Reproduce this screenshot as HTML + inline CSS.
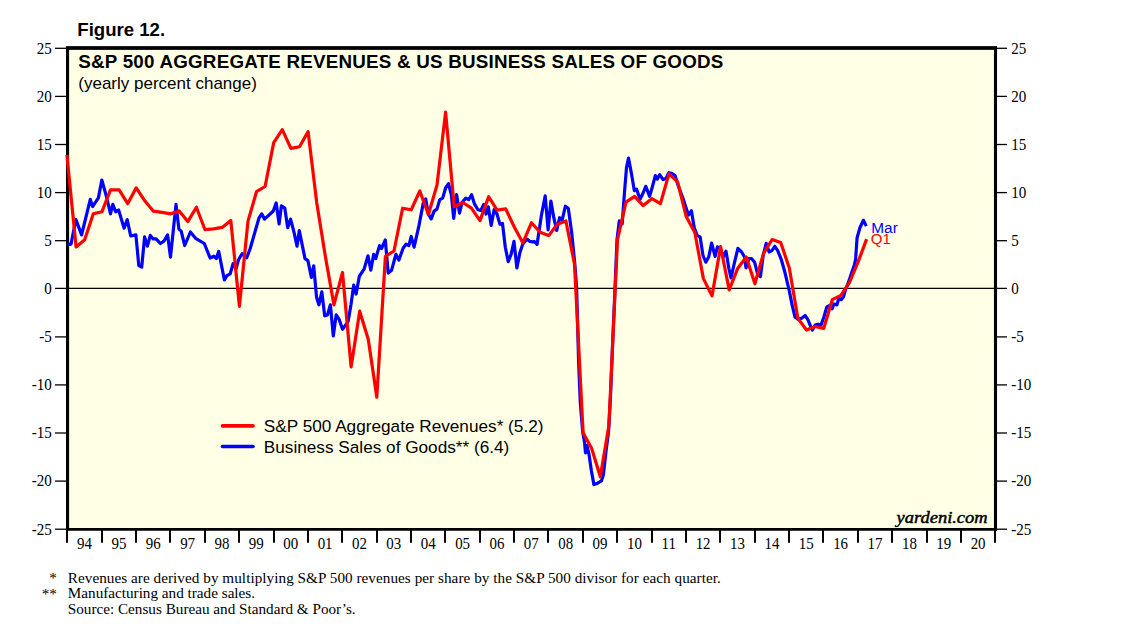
<!DOCTYPE html>
<html><head><meta charset="utf-8"><title>Figure 12</title>
<style>
html,body{margin:0;padding:0;background:#fff;}
body{width:1138px;height:624px;overflow:hidden;position:relative;}
svg{position:absolute;left:0;top:0;}
.sans{font-family:"Liberation Sans",sans-serif;}
.serif{font-family:"Liberation Serif",serif;}
</style></head><body>
<svg width="1138" height="624" viewBox="0 0 1138 624">
<rect x="0" y="0" width="1138" height="624" fill="#ffffff"/>
<rect x="67.5" y="48.1" width="927.9" height="481.4" fill="#ffffe6"/>

<path d="M67.55,529.4 L67.55,48 L995.5,48 L995.5,529.4" fill="none" stroke="#000" stroke-width="3.1" stroke-linejoin="miter"/>
<line x1="66" y1="48" x2="997" y2="48" stroke="#000" stroke-width="3.7"/>
<line x1="66" y1="529.4" x2="997" y2="529.4" stroke="#000" stroke-width="2.9"/>
<line x1="67.5" y1="288.4" x2="995.4" y2="288.4" stroke="#000" stroke-width="1.15"/>
<polyline points="67.2,244.7 71.0,244.1 75.9,219.6 81.6,234.9 90.3,199.4 92.6,206.6 98.4,197.9 101.8,180.0 106.2,195.6 110.5,213.8 112.8,204.3 115.7,211.8 118.6,210.0 124.1,228.2 127.2,219.6 130.7,236.0 135.9,234.9 138.8,265.7 141.7,267.2 144.6,236.9 147.4,246.1 150.3,235.4 153.2,238.9 156.1,238.9 160.4,243.5 163.9,241.2 167.6,234.9 170.5,257.1 176.0,204.3 178.9,229.1 181.2,231.1 184.7,245.5 190.4,232.0 195.6,238.3 204.3,243.5 210.1,258.0 213.8,256.2 216.4,258.5 218.7,251.3 224.4,280.0 226.9,275.6 230.2,273.8 233.1,263.7 236.0,268.8 238.5,259.8 242.1,253.7 246.7,257.8 250.2,248.5 258.9,218.2 261.7,213.9 264.6,219.1 273.3,211.0 276.2,202.9 279.1,224.0 281.4,205.8 284.8,208.1 287.7,227.7 290.6,219.1 294.1,232.7 297.0,246.2 299.3,230.6 305.0,258.6 307.9,260.6 311.4,277.4 313.7,265.8 316.6,297.6 318.9,304.8 321.8,291.8 324.7,315.8 327.5,314.9 330.4,304.8 333.3,336.0 336.2,314.9 339.1,319.3 342.5,329.3 348.1,321.6 351.0,304.5 353.7,285.2 356.1,294.0 359.3,276.4 364.2,268.8 368.0,255.8 370.8,270.2 373.7,254.3 375.7,258.7 379.5,245.6 381.5,248.5 385.3,239.9 388.2,273.1 391.6,270.2 395.9,254.3 398.8,260.1 403.2,248.0 406.0,244.2 408.9,245.6 411.2,236.4 414.1,247.1 419.0,225.4 423.4,202.4 425.7,198.9 428.3,214.0 431.2,218.9 434.1,211.1 436.9,209.1 439.8,199.6 442.7,198.1 445.6,188.0 448.5,183.7 451.4,195.2 453.7,218.3 456.6,194.7 459.5,213.1 462.0,202.5 465.8,198.1 468.7,199.6 471.6,194.7 474.5,203.9 477.9,209.7 480.8,210.5 483.7,204.5 486.0,214.0 488.3,206.8 491.2,225.5 494.1,209.7 497.0,214.0 499.9,224.1 502.5,223.5 505.3,247.2 508.2,261.6 511.1,254.4 514.0,241.4 516.9,268.0 519.8,253.0 522.7,244.3 527.0,239.1 529.9,241.4 532.8,242.0 534.2,241.4 537.1,244.3 541.4,215.4 545.2,195.8 548.1,229.9 550.9,201.0 553.8,217.7 556.7,230.4 559.6,217.7 562.2,219.8 565.4,206.2 568.3,208.2 571.7,232.8 574.6,261.6 576.6,286.9 578.6,361.9 580.3,402.4 582.6,431.2 584.6,442.8 585.5,452.9 586.9,445.6 589.0,454.3 591.3,470.2 593.9,484.6 597.6,483.2 601.4,480.9 603.4,474.5 606.0,451.4 608.6,431.2 610.5,396.6 612.8,338.9 614.1,310.0 617.0,239.7 619.3,220.9 622.2,223.8 624.5,192.0 626.5,167.5 628.5,158.0 631.4,173.3 634.3,190.6 636.6,189.2 640.0,199.3 642.9,193.5 645.8,186.3 649.6,196.4 652.5,186.3 655.3,175.6 657.4,179.1 659.7,174.7 663.1,179.6 666.0,178.5 668.9,172.7 671.8,173.3 675.0,175.6 678.4,186.3 682.8,197.8 685.6,206.5 688.5,215.1 691.4,210.8 694.3,228.1 697.2,235.3 700.1,236.8 703.0,255.5 705.8,262.2 708.7,257.0 711.6,243.1 715.1,256.4 717.4,246.9 720.3,248.3 723.2,257.0 726.0,251.2 728.9,268.5 731.0,278.0 733.9,265.0 737.9,248.3 741.6,252.0 744.5,257.0 746.0,267.9 748.9,258.7 751.7,258.7 754.6,262.2 757.5,273.7 760.4,276.6 763.3,254.9 766.2,243.4 769.1,252.0 771.9,250.6 774.8,246.3 777.7,250.6 781.2,259.3 784.9,272.3 789.3,291.0 792.2,305.4 795.0,317.0 797.9,319.3 801.4,318.4 805.1,315.5 808.0,319.9 810.9,327.1 812.4,330.0 815.2,325.1 818.1,324.2 821.0,325.1 823.9,317.0 826.8,306.9 829.7,305.4 832.0,308.9 834.0,304.0 836.9,304.9 838.9,298.2 841.2,299.7 843.5,296.8 845.5,289.6 848.4,282.4 851.3,273.7 854.2,265.6 855.6,259.3 857.1,237.6 860.0,227.5 863.4,220.3 866.3,226.1" fill="none" stroke="#0000ff" stroke-width="3.2" stroke-linejoin="round" stroke-linecap="butt"/>
<polyline points="66.9,154.9 76.1,247.0 84.7,239.8 93.3,213.8 101.9,211.8 110.5,189.8 119.1,189.8 127.7,203.7 136.2,187.8 144.8,200.8 153.4,211.2 162.0,212.4 170.6,213.8 179.2,210.9 187.8,221.6 196.4,207.2 205.0,229.7 213.6,228.8 222.2,227.4 230.8,220.4 239.4,306.3 248.0,221.1 256.5,191.7 265.1,186.5 273.7,142.6 282.3,129.6 290.9,148.4 299.5,146.7 308.1,131.6 316.7,202.4 325.3,256.0 333.9,304.8 342.5,272.5 351.1,366.9 359.7,311.2 368.3,339.5 376.8,397.2 385.4,256.3 394.0,251.0 402.6,208.2 411.2,209.8 419.8,191.0 428.4,214.5 437.0,185.1 445.6,112.1 454.2,206.8 462.8,202.5 471.4,208.2 480.0,220.6 488.6,196.7 497.1,210.2 505.7,208.8 514.3,227.0 522.9,242.9 531.5,222.7 540.1,232.2 548.7,235.6 557.3,224.3 565.9,221.0 574.5,264.2 583.1,432.7 591.7,448.5 600.3,476.8 608.9,425.4 617.5,239.7 626.0,202.2 634.6,196.4 643.2,205.6 651.8,198.7 660.4,203.6 669.0,173.9 677.6,181.9 686.2,216.6 694.8,232.5 703.4,278.6 712.0,295.9 720.6,246.6 729.2,289.9 737.8,268.2 746.3,257.0 754.9,283.8 763.5,253.5 772.1,239.6 780.7,242.5 789.3,267.9 797.9,318.4 806.5,330.0 815.1,326.5 823.7,328.5 832.3,299.7 840.9,295.3 849.5,282.4 858.1,262.0 866.6,239.1" fill="none" stroke="#ff0000" stroke-width="3.2" stroke-linejoin="round" stroke-linecap="butt"/>
<line x1="55" y1="529.2" x2="67.5" y2="529.2" stroke="#000" stroke-width="1.3"/>
<line x1="995.4" y1="529.2" x2="1007" y2="529.2" stroke="#000" stroke-width="1.3"/>
<text class="serif" transform="translate(51.8,534.5) scale(0.93,1)" font-size="16.2" text-anchor="end">-25</text>
<text class="serif" transform="translate(1011.2,534.5) scale(0.93,1)" font-size="16.2">-25</text>
<line x1="55" y1="481.1" x2="67.5" y2="481.1" stroke="#000" stroke-width="1.3"/>
<line x1="995.4" y1="481.1" x2="1007" y2="481.1" stroke="#000" stroke-width="1.3"/>
<text class="serif" transform="translate(51.8,486.4) scale(0.93,1)" font-size="16.2" text-anchor="end">-20</text>
<text class="serif" transform="translate(1011.2,486.4) scale(0.93,1)" font-size="16.2">-20</text>
<line x1="55" y1="433.0" x2="67.5" y2="433.0" stroke="#000" stroke-width="1.3"/>
<line x1="995.4" y1="433.0" x2="1007" y2="433.0" stroke="#000" stroke-width="1.3"/>
<text class="serif" transform="translate(51.8,438.3) scale(0.93,1)" font-size="16.2" text-anchor="end">-15</text>
<text class="serif" transform="translate(1011.2,438.3) scale(0.93,1)" font-size="16.2">-15</text>
<line x1="55" y1="384.9" x2="67.5" y2="384.9" stroke="#000" stroke-width="1.3"/>
<line x1="995.4" y1="384.9" x2="1007" y2="384.9" stroke="#000" stroke-width="1.3"/>
<text class="serif" transform="translate(51.8,390.2) scale(0.93,1)" font-size="16.2" text-anchor="end">-10</text>
<text class="serif" transform="translate(1011.2,390.2) scale(0.93,1)" font-size="16.2">-10</text>
<line x1="55" y1="336.9" x2="67.5" y2="336.9" stroke="#000" stroke-width="1.3"/>
<line x1="995.4" y1="336.9" x2="1007" y2="336.9" stroke="#000" stroke-width="1.3"/>
<text class="serif" transform="translate(51.8,342.2) scale(0.93,1)" font-size="16.2" text-anchor="end">-5</text>
<text class="serif" transform="translate(1011.2,342.2) scale(0.93,1)" font-size="16.2">-5</text>
<line x1="55" y1="288.4" x2="67.5" y2="288.4" stroke="#000" stroke-width="1.3"/>
<line x1="995.4" y1="288.4" x2="1007" y2="288.4" stroke="#000" stroke-width="1.3"/>
<text class="serif" transform="translate(51.8,293.8) scale(0.93,1)" font-size="16.2" text-anchor="end">0</text>
<text class="serif" transform="translate(1011.2,293.8) scale(0.93,1)" font-size="16.2">0</text>
<line x1="55" y1="240.7" x2="67.5" y2="240.7" stroke="#000" stroke-width="1.3"/>
<line x1="995.4" y1="240.7" x2="1007" y2="240.7" stroke="#000" stroke-width="1.3"/>
<text class="serif" transform="translate(51.8,246.0) scale(0.93,1)" font-size="16.2" text-anchor="end">5</text>
<text class="serif" transform="translate(1011.2,246.0) scale(0.93,1)" font-size="16.2">5</text>
<line x1="55" y1="192.6" x2="67.5" y2="192.6" stroke="#000" stroke-width="1.3"/>
<line x1="995.4" y1="192.6" x2="1007" y2="192.6" stroke="#000" stroke-width="1.3"/>
<text class="serif" transform="translate(51.8,197.9) scale(0.93,1)" font-size="16.2" text-anchor="end">10</text>
<text class="serif" transform="translate(1011.2,197.9) scale(0.93,1)" font-size="16.2">10</text>
<line x1="55" y1="144.5" x2="67.5" y2="144.5" stroke="#000" stroke-width="1.3"/>
<line x1="995.4" y1="144.5" x2="1007" y2="144.5" stroke="#000" stroke-width="1.3"/>
<text class="serif" transform="translate(51.8,149.8) scale(0.93,1)" font-size="16.2" text-anchor="end">15</text>
<text class="serif" transform="translate(1011.2,149.8) scale(0.93,1)" font-size="16.2">15</text>
<line x1="55" y1="96.4" x2="67.5" y2="96.4" stroke="#000" stroke-width="1.3"/>
<line x1="995.4" y1="96.4" x2="1007" y2="96.4" stroke="#000" stroke-width="1.3"/>
<text class="serif" transform="translate(51.8,101.7) scale(0.93,1)" font-size="16.2" text-anchor="end">20</text>
<text class="serif" transform="translate(1011.2,101.7) scale(0.93,1)" font-size="16.2">20</text>
<line x1="55" y1="48.3" x2="67.5" y2="48.3" stroke="#000" stroke-width="1.3"/>
<line x1="995.4" y1="48.3" x2="1007" y2="48.3" stroke="#000" stroke-width="1.3"/>
<text class="serif" transform="translate(51.8,53.6) scale(0.93,1)" font-size="16.2" text-anchor="end">25</text>
<text class="serif" transform="translate(1011.2,53.6) scale(0.93,1)" font-size="16.2">25</text>
<line x1="67.0" y1="529.5" x2="67.0" y2="542.8" stroke="#000" stroke-width="2"/>
<line x1="102.0" y1="529.5" x2="102.0" y2="542.8" stroke="#000" stroke-width="2"/>
<line x1="136.0" y1="529.5" x2="136.0" y2="542.8" stroke="#000" stroke-width="2"/>
<line x1="170.0" y1="529.5" x2="170.0" y2="542.8" stroke="#000" stroke-width="2"/>
<line x1="205.0" y1="529.5" x2="205.0" y2="542.8" stroke="#000" stroke-width="2"/>
<line x1="239.0" y1="529.5" x2="239.0" y2="542.8" stroke="#000" stroke-width="2"/>
<line x1="274.0" y1="529.5" x2="274.0" y2="542.8" stroke="#000" stroke-width="2"/>
<line x1="308.0" y1="529.5" x2="308.0" y2="542.8" stroke="#000" stroke-width="2"/>
<line x1="342.0" y1="529.5" x2="342.0" y2="542.8" stroke="#000" stroke-width="2"/>
<line x1="377.0" y1="529.5" x2="377.0" y2="542.8" stroke="#000" stroke-width="2"/>
<line x1="411.0" y1="529.5" x2="411.0" y2="542.8" stroke="#000" stroke-width="2"/>
<line x1="445.0" y1="529.5" x2="445.0" y2="542.8" stroke="#000" stroke-width="2"/>
<line x1="480.0" y1="529.5" x2="480.0" y2="542.8" stroke="#000" stroke-width="2"/>
<line x1="514.0" y1="529.5" x2="514.0" y2="542.8" stroke="#000" stroke-width="2"/>
<line x1="548.0" y1="529.5" x2="548.0" y2="542.8" stroke="#000" stroke-width="2"/>
<line x1="583.0" y1="529.5" x2="583.0" y2="542.8" stroke="#000" stroke-width="2"/>
<line x1="617.0" y1="529.5" x2="617.0" y2="542.8" stroke="#000" stroke-width="2"/>
<line x1="652.0" y1="529.5" x2="652.0" y2="542.8" stroke="#000" stroke-width="2"/>
<line x1="686.0" y1="529.5" x2="686.0" y2="542.8" stroke="#000" stroke-width="2"/>
<line x1="720.0" y1="529.5" x2="720.0" y2="542.8" stroke="#000" stroke-width="2"/>
<line x1="755.0" y1="529.5" x2="755.0" y2="542.8" stroke="#000" stroke-width="2"/>
<line x1="789.0" y1="529.5" x2="789.0" y2="542.8" stroke="#000" stroke-width="2"/>
<line x1="823.0" y1="529.5" x2="823.0" y2="542.8" stroke="#000" stroke-width="2"/>
<line x1="858.0" y1="529.5" x2="858.0" y2="542.8" stroke="#000" stroke-width="2"/>
<line x1="892.0" y1="529.5" x2="892.0" y2="542.8" stroke="#000" stroke-width="2"/>
<line x1="927.0" y1="529.5" x2="927.0" y2="542.8" stroke="#000" stroke-width="2"/>
<line x1="961.0" y1="529.5" x2="961.0" y2="542.8" stroke="#000" stroke-width="2"/>
<line x1="995.0" y1="529.5" x2="995.0" y2="542.8" stroke="#000" stroke-width="2"/>
<text class="serif" transform="translate(84.5,548.8) scale(0.9,1)" font-size="16.6" text-anchor="middle">94</text>
<text class="serif" transform="translate(118.9,548.8) scale(0.9,1)" font-size="16.6" text-anchor="middle">95</text>
<text class="serif" transform="translate(153.2,548.8) scale(0.9,1)" font-size="16.6" text-anchor="middle">96</text>
<text class="serif" transform="translate(187.6,548.8) scale(0.9,1)" font-size="16.6" text-anchor="middle">97</text>
<text class="serif" transform="translate(222.0,548.8) scale(0.9,1)" font-size="16.6" text-anchor="middle">98</text>
<text class="serif" transform="translate(256.3,548.8) scale(0.9,1)" font-size="16.6" text-anchor="middle">99</text>
<text class="serif" transform="translate(290.7,548.8) scale(0.9,1)" font-size="16.6" text-anchor="middle">00</text>
<text class="serif" transform="translate(325.1,548.8) scale(0.9,1)" font-size="16.6" text-anchor="middle">01</text>
<text class="serif" transform="translate(359.4,548.8) scale(0.9,1)" font-size="16.6" text-anchor="middle">02</text>
<text class="serif" transform="translate(393.8,548.8) scale(0.9,1)" font-size="16.6" text-anchor="middle">03</text>
<text class="serif" transform="translate(428.2,548.8) scale(0.9,1)" font-size="16.6" text-anchor="middle">04</text>
<text class="serif" transform="translate(462.6,548.8) scale(0.9,1)" font-size="16.6" text-anchor="middle">05</text>
<text class="serif" transform="translate(496.9,548.8) scale(0.9,1)" font-size="16.6" text-anchor="middle">06</text>
<text class="serif" transform="translate(531.3,548.8) scale(0.9,1)" font-size="16.6" text-anchor="middle">07</text>
<text class="serif" transform="translate(565.7,548.8) scale(0.9,1)" font-size="16.6" text-anchor="middle">08</text>
<text class="serif" transform="translate(600.0,548.8) scale(0.9,1)" font-size="16.6" text-anchor="middle">09</text>
<text class="serif" transform="translate(634.4,548.8) scale(0.9,1)" font-size="16.6" text-anchor="middle">10</text>
<text class="serif" transform="translate(668.8,548.8) scale(0.9,1)" font-size="16.6" text-anchor="middle">11</text>
<text class="serif" transform="translate(703.1,548.8) scale(0.9,1)" font-size="16.6" text-anchor="middle">12</text>
<text class="serif" transform="translate(737.5,548.8) scale(0.9,1)" font-size="16.6" text-anchor="middle">13</text>
<text class="serif" transform="translate(771.9,548.8) scale(0.9,1)" font-size="16.6" text-anchor="middle">14</text>
<text class="serif" transform="translate(806.3,548.8) scale(0.9,1)" font-size="16.6" text-anchor="middle">15</text>
<text class="serif" transform="translate(840.6,548.8) scale(0.9,1)" font-size="16.6" text-anchor="middle">16</text>
<text class="serif" transform="translate(875.0,548.8) scale(0.9,1)" font-size="16.6" text-anchor="middle">17</text>
<text class="serif" transform="translate(909.4,548.8) scale(0.9,1)" font-size="16.6" text-anchor="middle">18</text>
<text class="serif" transform="translate(943.7,548.8) scale(0.9,1)" font-size="16.6" text-anchor="middle">19</text>
<text class="serif" transform="translate(978.1,548.8) scale(0.9,1)" font-size="16.6" text-anchor="middle">20</text>
<text class="sans" x="77.3" y="36" font-size="18.6" font-weight="bold">Figure 12.</text>
<text class="sans" x="78.3" y="68.3" font-size="18.8" font-weight="bold" textLength="645" lengthAdjust="spacing">S&amp;P 500 AGGREGATE REVENUES &amp; US BUSINESS SALES OF GOODS</text>
<text class="sans" x="78.3" y="88.6" font-size="17">(yearly percent change)</text>
<line x1="222.5" y1="425.9" x2="253" y2="425.9" stroke="#ff0000" stroke-width="3.6" stroke-linecap="round"/>
<line x1="222.5" y1="446.5" x2="253" y2="446.5" stroke="#0000ff" stroke-width="3.6" stroke-linecap="round"/>
<text class="sans" x="263.8" y="432" font-size="17.2">S&amp;P 500 Aggregate Revenues* (5.2)</text>
<text class="sans" x="263.8" y="452.7" font-size="17.2">Business Sales of Goods** (6.4)</text>
<text class="sans" x="871.3" y="233.3" font-size="15.4" fill="#0000ff">Mar</text>
<text class="sans" x="870.8" y="244" font-size="15" fill="#ff0000">Q1</text>
<text class="serif" x="987.6" y="523.1" font-size="16" font-style="italic" stroke="#000" stroke-width="0.45" text-anchor="end" textLength="91" lengthAdjust="spacingAndGlyphs">yardeni.com</text>
<text class="serif" x="56.9" y="583.2" font-size="15.2" text-anchor="end">*</text>
<text class="serif" x="56.9" y="598.7" font-size="15.2" text-anchor="end">**</text>
<text class="serif" x="67.8" y="582.8" font-size="15.2" textLength="653" lengthAdjust="spacing">Revenues are derived by multiplying S&amp;P 500 revenues per share by the S&amp;P 500 divisor for each quarter.</text>
<text class="serif" x="67.8" y="598" font-size="15.2">Manufacturing and trade sales.</text>
<text class="serif" x="67.8" y="613.6" font-size="15.2">Source: Census Bureau and Standard &amp; Poor’s.</text>
</svg></body></html>
